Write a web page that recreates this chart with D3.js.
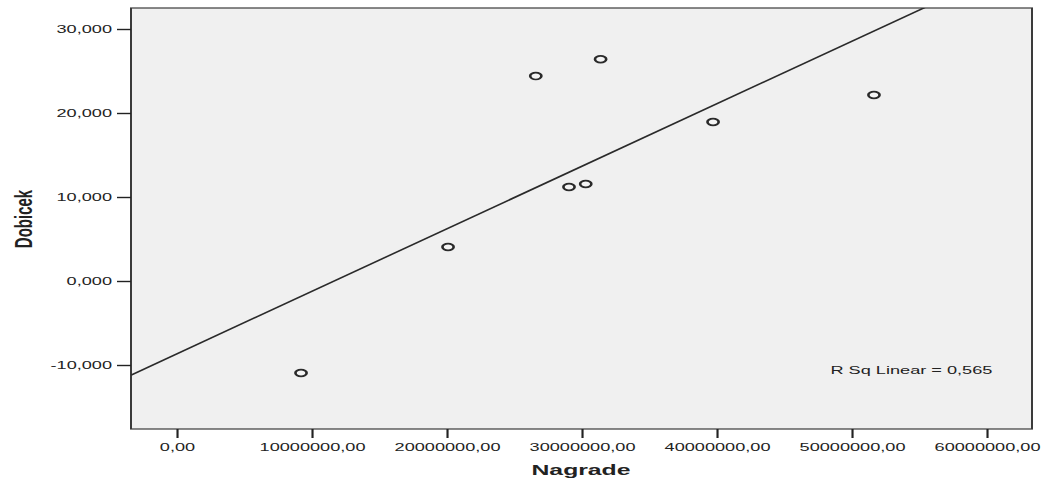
<!DOCTYPE html>
<html>
<head>
<meta charset="utf-8">
<script src="https://cdn.jsdelivr.net/npm/d3@7"></script>
<style>
  body { margin: 0; background: #fff; }
  text { font-family: "Liberation Sans", Arial, sans-serif; fill: #222; }
</style>
</head>
<body>
<div id="scatter"></div>
<script>
// data
var nagrade = [9210000, 20100000, 26600000, 29060000, 30300000, 31400000, 39730000, 51650000];
var dobicek = [-10.95, 4.05, 24.4, 11.19, 11.55, 26.4, 18.93, 22.14];
var xTicks = [0, 10000000, 20000000, 30000000, 40000000, 50000000, 60000000];
var yTicks = [-10, 0, 10, 20, 30];

var svgWidth = 1042;
var svgHeight = 481;
// the original chart is stretched sideways, so everything is drawn in a squeezed group
var sx = 1.65;

var plot = { left: 131 / sx, right: 1032 / sx, top: 8, bottom: 429 };

var svg = d3.select("#scatter")
  .append("svg")
  .attr("width", svgWidth)
  .attr("height", svgHeight);

var g = svg.append("g")
  .attr("transform", `scale(${sx},1)`);

var xLinearScale = d3.scaleLinear()
  .domain([-3385000, 63356000])
  .range([plot.left, plot.right]);

var yLinearScale = d3.scaleLinear()
  .domain([-17.619, 32.5])
  .range([plot.bottom, plot.top]);

// decimal comma, plain hyphen for minus
var comma = f => (v => d3.format(f)(v).replace(".", ",").replace("\u2212", "-"));

// plot background
g.append("rect")
  .attr("x", plot.left)
  .attr("y", plot.top)
  .attr("width", plot.right - plot.left)
  .attr("height", plot.bottom - plot.top)
  .attr("fill", "#f0f0f0")
  .attr("stroke", "#3a3a3a")
  .attr("stroke-width", 1.2);

// y axis
var yAxis = g.append("g")
  .attr("transform", `translate(${plot.left}, 0)`)
  .call(d3.axisLeft(yLinearScale)
    .tickValues(yTicks)
    .tickSize(8.5)
    .tickPadding(3)
    .tickFormat(comma(".3f")));
yAxis.select(".domain").remove();
yAxis.selectAll("line").attr("stroke", "#222").attr("stroke-width", 1.4);
yAxis.selectAll("text").attr("font-size", 11).attr("fill", "#222")
  .attr("font-family", "Liberation Sans, Arial, sans-serif");

// x axis
var xAxis = g.append("g")
  .attr("transform", `translate(0, ${plot.bottom})`)
  .call(d3.axisBottom(xLinearScale)
    .tickValues(xTicks)
    .tickSize(9)
    .tickPadding(5)
    .tickFormat(comma(".2f")));
xAxis.select(".domain").remove();
xAxis.selectAll("line").attr("stroke", "#222").attr("stroke-width", 1.3);
xAxis.selectAll("text").attr("font-size", 11).attr("fill", "#222")
  .attr("font-family", "Liberation Sans, Arial, sans-serif");

// clip for the fit line
g.append("clipPath")
  .attr("id", "plotClip")
  .append("rect")
  .attr("x", plot.left)
  .attr("y", plot.top)
  .attr("width", plot.right - plot.left)
  .attr("height", plot.bottom - plot.top);

// least squares fit
var mx = d3.mean(nagrade), my = d3.mean(dobicek);
var sxy = d3.sum(nagrade, (x, i) => (x - mx) * (dobicek[i] - my));
var sxx = d3.sum(nagrade, x => (x - mx) * (x - mx));
var syy = d3.sum(dobicek, y => (y - my) * (y - my));
var slope = sxy / sxx;
var intercept = my - slope * mx;
var r2 = sxy * sxy / (sxx * syy);

var xd = xLinearScale.domain();
g.append("line")
  .attr("clip-path", "url(#plotClip)")
  .attr("x1", xLinearScale(xd[0]))
  .attr("y1", yLinearScale(intercept + slope * xd[0]))
  .attr("x2", xLinearScale(xd[1]))
  .attr("y2", yLinearScale(intercept + slope * xd[1]))
  .attr("stroke", "#2a2a2a")
  .attr("stroke-width", 1.4);

// points
g.selectAll("circle.pt")
  .data(nagrade)
  .enter()
  .append("circle")
  .attr("class", "pt")
  .attr("cx", (d, i) => xLinearScale(d))
  .attr("cy", (d, i) => yLinearScale(dobicek[i]))
  .attr("r", 3.4)
  .attr("fill", "#f4f4f4")
  .attr("stroke", "#2a2a2a")
  .attr("stroke-width", 1.6);

// R squared note
g.append("text")
  .attr("x", 830.5 / sx)
  .attr("y", 374)
  .attr("font-size", 11)
  .text("R Sq Linear = " + comma(".3f")(r2));

// axis titles
g.append("text")
  .attr("x", 581 / sx)
  .attr("y", 475)
  .attr("text-anchor", "middle")
  .attr("font-size", 15)
  .attr("font-weight", "bold")
  .text("Nagrade");

g.append("text")
  .attr("transform", `translate(${31.5 / sx}, 219) rotate(-90)`)
  .attr("text-anchor", "middle")
  .attr("font-size", 15)
  .attr("font-weight", "bold")
  .text("Dobicek");
</script>
</body>
</html>
